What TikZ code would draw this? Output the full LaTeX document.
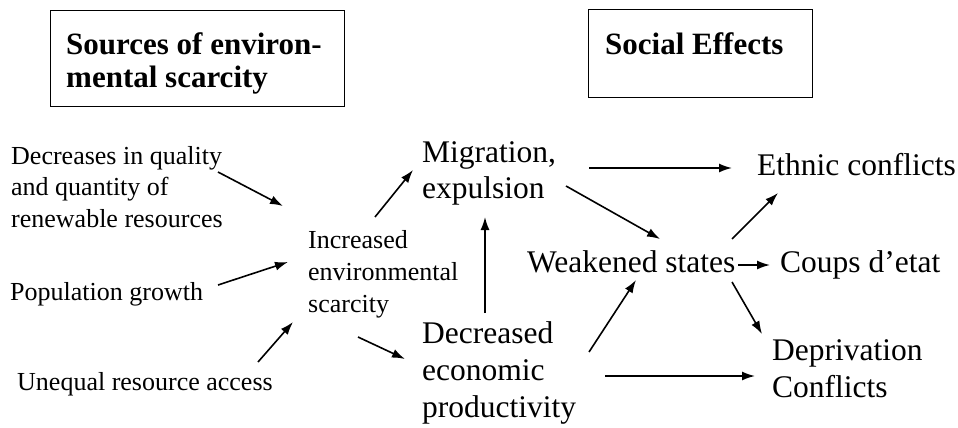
\documentclass[tikz,border=0pt]{standalone}
\usepackage{fontspec}
\setmainfont{Liberation Serif}
\usetikzlibrary{arrows.meta}
\tikzset{
  txt/.style={anchor=base west, inner sep=0pt, align=left},
  small/.style={txt, font=\fontsize{26}{31.5}\selectfont},
  big/.style={txt, font=\fontsize{31.5}{36.5}\selectfont},
  ttl/.style={txt, font=\fontsize{31}{33}\selectfont\bfseries},
  frame/.style={draw, line width=1.2pt, anchor=north west, inner sep=0pt},
  arr/.style={-{Latex[length=13pt,width=9pt]}, line width=1.6pt}
}
\begin{document}
\begin{tikzpicture}[x=1pt,y=-1pt]
\useasboundingbox (0,0) rectangle (958,428);
% title boxes
\node[frame, minimum width=294pt, minimum height=96pt] (srcbox) at (50,10) {};
\node[ttl] (src) at (66,88) {Sources of environ-\\mental scarcity};
\node[frame, minimum width=224pt, minimum height=88pt] (socbox) at (588,9) {};
\node[ttl] (soc) at (605,55) {Social Effects};
% texts (multi-line nodes are anchored at the baseline of their last line)
\node[small] (dec) at (11,227) {Decreases in quality\\and quantity of\\renewable resources};
\node[small] (pop) at (10,300) {Population growth};
\node[small] (uneq) at (17,390) {Unequal resource access};
\node[small, font=\fontsize{26}{32}\selectfont] (inc) at (308,312) {Increased\\environmental\\scarcity};
\node[big, font=\fontsize{31.5}{36}\selectfont] (mig) at (422,198) {Migration,\\expulsion};
\node[big, font=\fontsize{31.5}{37}\selectfont] (decr) at (422,417) {Decreased\\economic\\productivity};
\node[big] (weak) at (527,272) {Weakened states};
\node[big] (eth) at (757,175) {Ethnic conflicts};
\node[big] (coup) at (780,272) {Coups d’etat};
\node[big, font=\fontsize{31.5}{37}\selectfont] (dep) at (772,397) {Deprivation\\Conflicts};
% arrow end points
\coordinate (dec-out) at (218,172);  \coordinate (inc-in1) at (283,206);
\coordinate (pop-out) at (218,285);  \coordinate (inc-in2) at (288,262);
\coordinate (uneq-out) at (258,362); \coordinate (inc-in3) at (293,322);
\coordinate (inc-up) at (375,217);   \coordinate (mig-in) at (413,170);
\coordinate (inc-dn) at (358,337);   \coordinate (decr-in) at (405,359);
\coordinate (decr-up) at (485,313);  \coordinate (mig-in2) at (485,217);
\coordinate (mig-out1) at (589,168); \coordinate (eth-in1) at (732,168);
\coordinate (mig-out2) at (566,186); \coordinate (weak-in1) at (660,239);
\coordinate (decr-out1) at (589,352); \coordinate (weak-in2) at (636,280);
\coordinate (decr-out2) at (605,376); \coordinate (dep-in1) at (755,376);
\coordinate (weak-out1) at (732,239); \coordinate (eth-in2) at (778,193);
\coordinate (weak-out2) at (738,265); \coordinate (coup-in) at (770,265);
\coordinate (weak-out3) at (732,282); \coordinate (dep-in2) at (762,334);
% connectors
\draw[arr] (dec-out) -- (inc-in1);
\draw[arr] (pop-out) -- (inc-in2);
\draw[arr] (uneq-out) -- (inc-in3);
\draw[arr] (inc-up) -- (mig-in);
\draw[arr] (inc-dn) -- (decr-in);
\draw[arr] (decr-up) -- (mig-in2);
\draw[arr] (mig-out1) -- (eth-in1);
\draw[arr] (mig-out2) -- (weak-in1);
\draw[arr] (decr-out1) -- (weak-in2);
\draw[arr] (decr-out2) -- (dep-in1);
\draw[arr] (weak-out1) -- (eth-in2);
\draw[arr] (weak-out2) -- (coup-in);
\draw[arr] (weak-out3) -- (dep-in2);
\end{tikzpicture}
\end{document}
